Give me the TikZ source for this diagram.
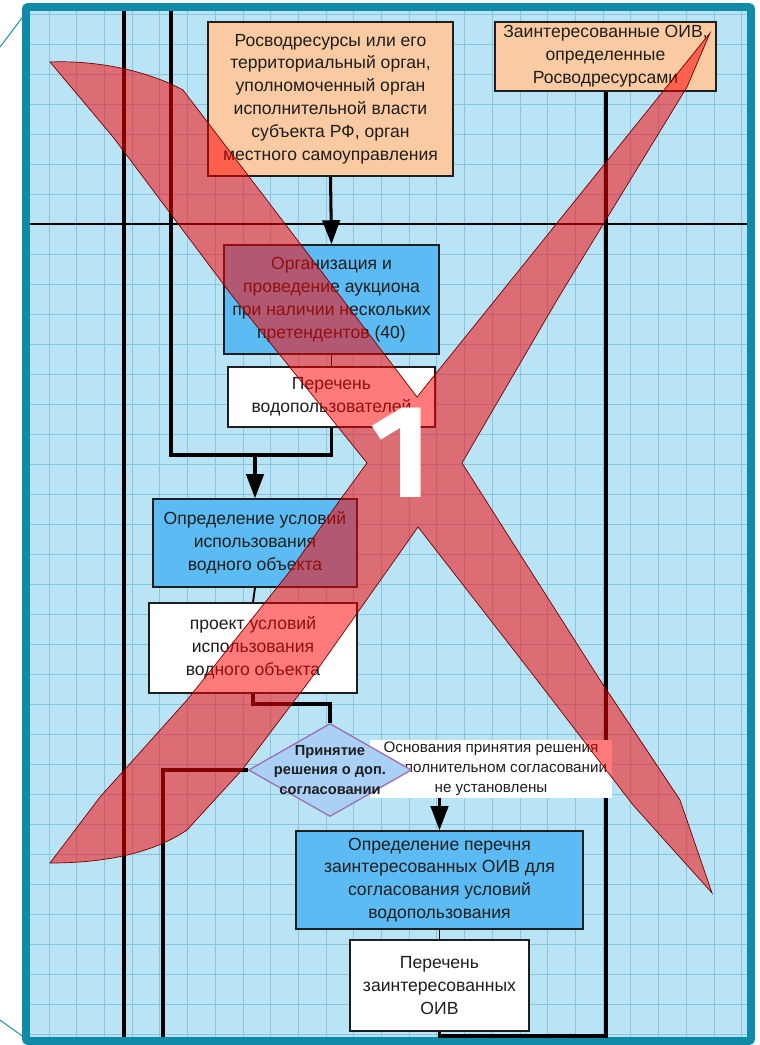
\documentclass[tikz,border=0pt]{standalone}
\usepackage{fontspec}
\setmainfont{Liberation Sans}
\usepackage{tikz}
\usetikzlibrary{shapes.geometric,arrows.meta}

\definecolor{paper}{RGB}{184,228,246}
\definecolor{gridblue}{RGB}{138,196,221}
\definecolor{frameteal}{RGB}{16,138,166}
\definecolor{peach}{RGB}{250,203,162}
\definecolor{skyblue}{RGB}{92,187,242}
\definecolor{paleblue}{RGB}{170,208,245}
\definecolor{lilac}{RGB}{160,110,175}
\definecolor{inkgray}{RGB}{30,30,30}

\newcommand{\pxu}{0.03cm}
\newcommand{\boxfont}{\fontsize{15}{19.5}\selectfont}
\newcommand{\notefont}{\fontsize{13}{17}\selectfont}
\newcommand{\decfont}{\fontsize{12.5}{17}\selectfont\bfseries}
\newfontfamily\bigdigit{Fira Sans}

\begin{document}
\begin{tikzpicture}[x=\pxu,y=-\pxu,
    box/.style={draw=inkgray, line width=1.3pt, text=inkgray, align=center, font=\boxfont, inner sep=0pt},
    lane/.style={black, line width=3.4pt},
    link/.style={black, line width=2.6pt, -{Triangle[length=0.72cm,width=0.52cm]}},
    thinlink/.style={black, line width=1.6pt},
    gridline/.style={gridblue, line width=0.7pt}]
    \useasboundingbox (0,0) rectangle (759,1045);

    % Sheet with grid
    \draw[frameteal, line width=0.8pt] (0,47) -- (25,14);
    \draw[frameteal, line width=0.8pt] (0,1020) -- (25,1038);
    \fill[paper] (30,11) rectangle (747,1037);
    \foreach \gx in {49.1,76.8,...,742} \draw[gridline] (\gx,11) -- (\gx,1037);
    \foreach \gy in {14,44,...,1034} \draw[gridline] (30,\gy) -- (747,\gy);
    \draw[frameteal, line width=6.8pt, rounded corners=2pt] (26,7) rectangle (751,1041);

    % Lanes
    \draw[black, line width=1pt] (30,224) -- (747,224);
    \draw[lane] (124,11) -- (124,1037);

    % Boxes
    \node[box, fill=peach, minimum width=245*\pxu, minimum height=154*\pxu] (src) at (330.5,99)
        {Росводресурсы или его\\территориальный орган,\\уполномоченный орган\\исполнительной власти\\субъекта РФ, орган\\местного самоуправления};
    \node[box, fill=peach, minimum width=221*\pxu, minimum height=69*\pxu] (ioiv) at (605.5,56.5)
        {Заинтересованные ОИВ,\\определенные\\Росводресурсами};
    \node[box, fill=skyblue, minimum width=215*\pxu, minimum height=109*\pxu] (auct) at (331.5,299.5)
        {Организация и\\проведение аукциона\\при наличии нескольких\\претендентов (40)};
    \node[box, fill=white, minimum width=207*\pxu, minimum height=60*\pxu] (users) at (331.5,397)
        {Перечень\\водопользователей};
    \node[box, fill=skyblue, minimum width=204*\pxu, minimum height=88*\pxu] (cond) at (255,543)
        {Определение условий\\использования\\водного объекта};
    \node[box, fill=white, minimum width=208*\pxu, minimum height=90*\pxu] (draft) at (253,648)
        {проект условий\\использования\\водного объекта};
    \node[box, fill=skyblue, minimum width=287*\pxu, minimum height=98*\pxu] (list) at (439.5,880)
        {Определение перечня\\заинтересованных ОИВ для\\согласования условий\\водопользования};
    \node[box, fill=white, minimum width=179*\pxu, minimum height=91*\pxu] (oiv) at (439.5,985.5)
        {Перечень\\заинтересованных\\ОИВ};

    % Connectors
    \coordinate (jn) at (331,455);
    \coordinate (laneB) at (171,11);
    \coordinate (bottomrun) at (440,1036);
    \draw[link] (src.south) -- (auct.north);
    \draw[thinlink] (auct.south) -- (users.north);
    \draw[lane] (users.south) -- (users.south |- jn) -| (laneB);
    \draw[link] (cond.north |- jn) -- (cond.north);
    \draw[thinlink] (cond.south) -- (draft.north);
    \draw[thinlink] (list.south) -- (oiv.north);
    \draw[lane] (oiv.south) -- (oiv.south |- bottomrun) -| (ioiv.south);

    % Decision
    \node[fill=white, inner sep=0pt, minimum width=242*\pxu, minimum height=58*\pxu, align=center, font=\notefont, text=inkgray] (why) at (491,769)
        {Основания принятия решения\\о дополнительном согласовании\\не установлены};
    \node[diamond, draw=lilac, line width=1.1pt, fill=paleblue, inner sep=0pt, minimum width=163*\pxu, minimum height=93*\pxu,
        label={[font=\decfont, text=inkgray, align=center]center:{Принятие\\решения о доп.\\согласовании}}] (dec) at (330,770) {};
    \coordinate (laneC) at (163,1037);
    \draw[lane] (draft.south) -- ++(0,10) -| (dec.north);
    \draw[lane] (dec.west) -| (laneC);
    \draw[link] (list.north |- why.south) -- (list.north);

    % Red cross
    \draw[draw=red!45!black, line width=0.6pt, fill=red, fill opacity=0.52]
        (50,62) .. controls (100,60) and (150,72) .. (183,90) -- (417,397) -- (710,33) -- (687,87)
        -- (557,300) -- (462,463) -- (600,680) -- (680,800) -- (712,893) -- (633,805) -- (537,680)
        -- (418,527) -- (310,680) -- (242,770) -- (187,830) .. controls (150,855) and (100,863) .. (50,863)
        -- (100,797) -- (187,700) -- (287,575) -- (340,500) -- (367,463) -- (230,293) -- (170,213)
        -- (113,137) -- cycle;
    \node[text=white, inner sep=0pt, font=\bigdigit\fontsize{113}{113}\selectfont\bfseries] (one) at (401,453) {1};
\end{tikzpicture}
\end{document}
